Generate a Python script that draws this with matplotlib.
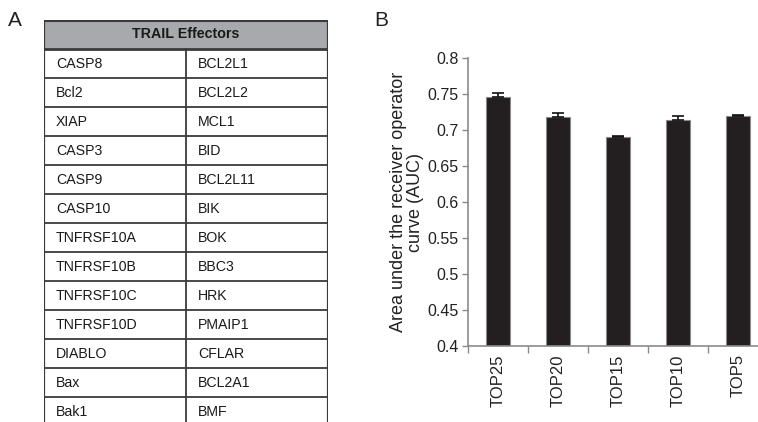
import numpy as np
import matplotlib
matplotlib.use("Agg")
import matplotlib.pyplot as plt

plt.rcParams['font.family'] = ['Liberation Sans', 'DejaVu Sans']

# panel A: table contents
header = 'TRAIL Effectors'
left_genes = ['CASP8', 'Bcl2', 'XIAP', 'CASP3', 'CASP9', 'CASP10', 'TNFRSF10A',
              'TNFRSF10B', 'TNFRSF10C', 'TNFRSF10D', 'DIABLO', 'Bax', 'Bak1']
right_genes = ['BCL2L1', 'BCL2L2', 'MCL1', 'BID', 'BCL2L11', 'BIK', 'BOK',
               'BBC3', 'HRK', 'PMAIP1', 'CFLAR', 'BCL2A1', 'BMF']

# panel B: AUC per gene set
sets = ['TOP25', 'TOP20', 'TOP15', 'TOP10', 'TOP5']
auc = [0.746, 0.718, 0.690, 0.714, 0.720]
auc_err = [0.006, 0.005, 0.001, 0.006, 0.001]

W, H = 758, 422
fig = plt.figure(figsize=(W / 100, H / 100), dpi=100)

line_c = '#3a3a3a'

# ---- table (rows in data units, row 0 = header) ----
nrows = len(left_genes) + 1
tx = fig.add_axes([44 / W, 1 - (20 + 29 * nrows) / H, 284 / W, 29 * nrows / H])
tx.set_xlim(0, 2)
tx.set_ylim(nrows, 0)
tx.axis('off')
tx.add_patch(plt.Rectangle((0, 0), 2, 1, facecolor='#a7a9ac', edgecolor='none'))
tx.text(1, 0.5, header, ha='center', va='center', fontsize=10.3, fontweight='bold', color='#1a1a1a')
tx.plot([0, 2], [0, 0], color=line_c, lw=2.2, solid_capstyle='projecting')
tx.plot([0, 2], [1, 1], color=line_c, lw=2.0)
for r in range(2, nrows):
    tx.plot([0, 2], [r, r], color=line_c, lw=1.3)
tx.plot([0, 0], [0, nrows], color=line_c, lw=1.6)
tx.plot([2, 2], [0, nrows], color=line_c, lw=1.6)
tx.plot([1, 1], [1, nrows], color=line_c, lw=1.3)
for i, (a, b) in enumerate(zip(left_genes, right_genes)):
    y = i + 1.52
    tx.text(0.085, y, a, ha='left', va='center', fontsize=10.2, color='#1a1a1a')
    tx.text(1.085, y, b, ha='left', va='center', fontsize=10.2, color='#1a1a1a')

fig.text(8 / W, 1 - 20 / H, 'A', fontsize=15, va='center', ha='left', color='#222222')
fig.text(374 / W, 1 - 20 / H, 'B', fontsize=15, va='center', ha='left', color='#222222')

# ---- bar chart ----
ax = fig.add_axes([468 / W, 1 - 346 / H, 300 / W, 288 / H])
x = np.arange(len(sets))
ax.bar(x, auc, width=0.39, color='#231f20', edgecolor='#8a8a8a', linewidth=0.8, zorder=2)
ax.errorbar(x, auc, yerr=[np.zeros(len(auc)), auc_err], fmt='none', ecolor='#111111',
            elinewidth=1.2, capsize=4, capthick=1.2, zorder=3)
ax.set_xlim(-0.5, len(sets) - 0.5)
ax.set_ylim(0.4, 0.8)
ax.set_yticks(np.arange(0.4, 0.801, 0.05))
ax.set_yticklabels(['0.4', '0.45', '0.5', '0.55', '0.6', '0.65', '0.7', '0.75', '0.8'])
ax.set_xticks(x)
ax.set_xticklabels(sets, rotation=90)
ax.set_xticks(np.arange(-0.5, len(sets), 1), minor=True)
ax.tick_params(axis='x', which='major', length=0, labelsize=12, pad=6, colors='#222222')
ax.tick_params(axis='x', which='minor', length=5, color='#8a8a8a', width=1)
ax.tick_params(axis='y', length=4, color='#8a8a8a', width=1, labelsize=11.5,
               labelcolor='#222222', pad=3)
for s in ['top', 'right']:
    ax.spines[s].set_visible(False)
for s in ['left', 'bottom']:
    ax.spines[s].set_color('#8a8a8a')
    ax.spines[s].set_linewidth(1.2)
ax.set_ylabel('Area under the receiver operator\ncurve (AUC)', fontsize=13,
              color='#222222', labelpad=2, linespacing=1.05)

fig.savefig('out.png', dpi=100)
